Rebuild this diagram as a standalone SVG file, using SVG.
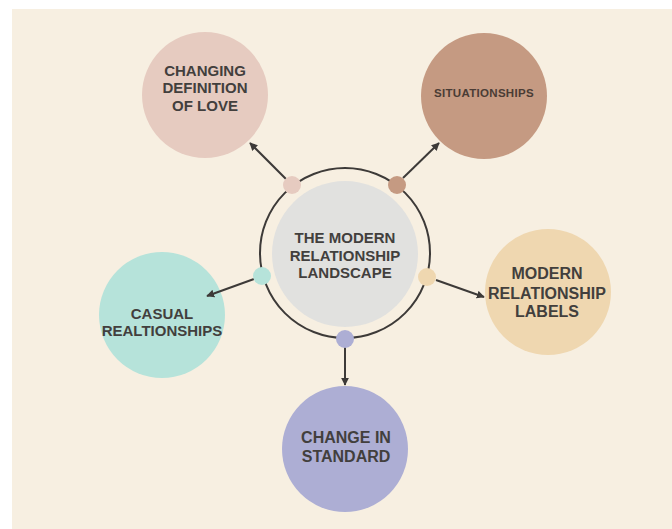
<svg xmlns="http://www.w3.org/2000/svg" width="672" height="529" viewBox="0 0 672 529">
  <style>
    .lbl { font-family: "Liberation Sans", Arial, sans-serif; font-weight: bold; fill: #423f3d; text-anchor: middle; }
    .conn { stroke: #3d3a38; stroke-width: 2; fill: none; marker-end: url(#arrow); }
  </style>
  <defs>
    <marker id="arrow" viewBox="0 0 10 10" refX="9" refY="5" markerWidth="4" markerHeight="4" orient="auto" markerUnits="strokeWidth">
      <path d="M0,0 L10,5 L0,10 Z" fill="#3d3a38"/>
    </marker>
  </defs>
  <rect x="0" y="0" width="672" height="529" fill="#ffffff"/>
  <rect x="12" y="9" width="660" height="520" fill="#f7efe1"/>

  <g id="center">
    <circle cx="345" cy="253" r="85" fill="none" stroke="#3d3a38" stroke-width="2"/>
    <circle cx="345" cy="254" r="73" fill="#e1e1df"/>
    <text class="lbl" font-size="15" x="345" y="243">THE MODERN</text>
    <text class="lbl" font-size="15" x="345" y="260.5">RELATIONSHIP</text>
    <text class="lbl" font-size="15" x="345" y="278">LANDSCAPE</text>
  </g>

  <g id="node-love">
    <circle cx="205" cy="95" r="63" fill="#e6cbc0"/>
    <text class="lbl" font-size="15" x="205" y="75.5">CHANGING</text>
    <text class="lbl" font-size="15" x="205" y="93">DEFINITION</text>
    <text class="lbl" font-size="15" x="205" y="110.5">OF LOVE</text>
  </g>

  <g id="node-situationships">
    <circle cx="484" cy="96" r="63" fill="#c59a82"/>
    <text class="lbl" font-size="11.5" letter-spacing="0.3" x="484" y="97" style="fill:#4a3c35">SITUATIONSHIPS</text>
  </g>

  <g id="node-casual">
    <circle cx="162" cy="315" r="63" fill="#b6e3da"/>
    <text class="lbl" font-size="15" x="162" y="318.5">CASUAL</text>
    <text class="lbl" font-size="15" x="162" y="335.5">REALTIONSHIPS</text>
  </g>

  <g id="node-labels">
    <circle cx="548" cy="292" r="63" fill="#efd7b0"/>
    <text class="lbl" font-size="16" x="547" y="279">MODERN</text>
    <text class="lbl" font-size="16" x="547" y="298.5">RELATIONSHIP</text>
    <text class="lbl" font-size="16" x="547" y="317">LABELS</text>
  </g>

  <g id="node-standard">
    <circle cx="345" cy="449" r="63" fill="#adaed4"/>
    <text class="lbl" font-size="16" x="346" y="443">CHANGE IN</text>
    <text class="lbl" font-size="16" x="346" y="462">STANDARD</text>
  </g>

  <g id="connectors">
    <line class="conn" x1="286" y1="179" x2="250" y2="143"/>
    <line class="conn" x1="403" y1="178" x2="439" y2="143"/>
    <line class="conn" x1="254" y1="279" x2="207" y2="296"/>
    <line class="conn" x1="436" y1="280" x2="484" y2="297"/>
    <line class="conn" x1="345" y1="346" x2="345" y2="385"/>
  </g>

  <g id="dots">
    <circle cx="292" cy="185" r="9" fill="#e6cbc0"/>
    <circle cx="397" cy="185" r="9" fill="#c59a82"/>
    <circle cx="262" cy="276" r="9" fill="#b6e3da"/>
    <circle cx="427" cy="277" r="9" fill="#efd7b0"/>
    <circle cx="345" cy="339" r="9" fill="#adaed4"/>
  </g>
</svg>
